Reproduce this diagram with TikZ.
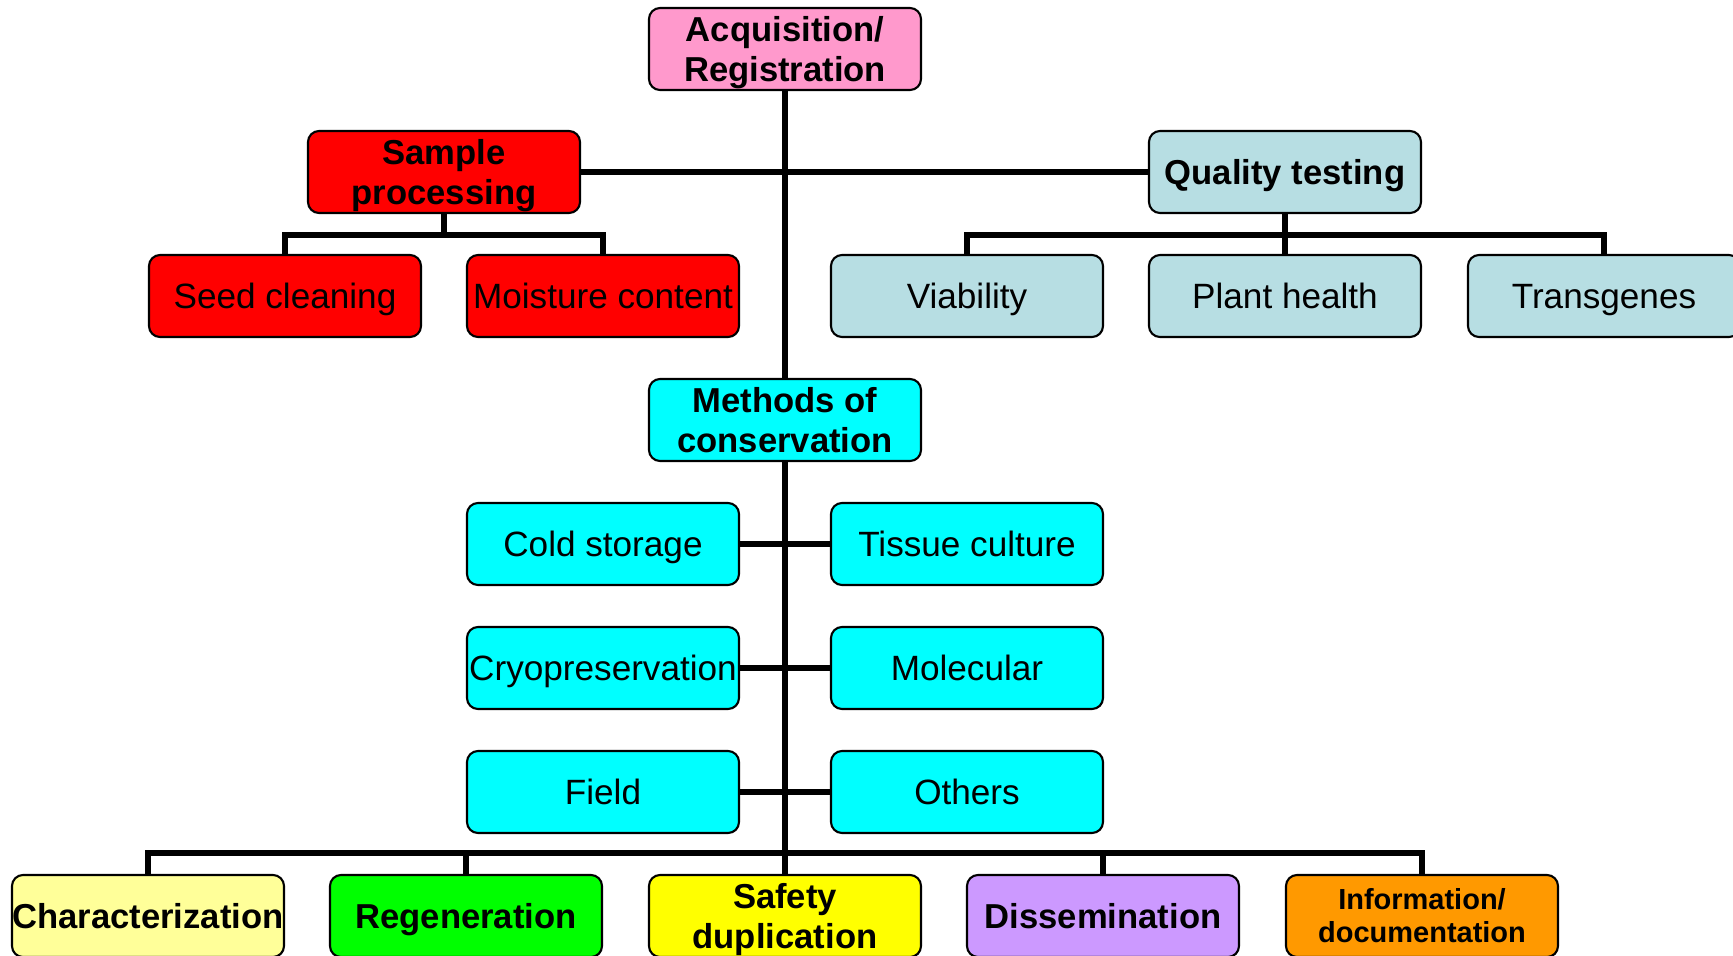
\documentclass[tikz,border=0pt]{standalone}
\usepackage{fontspec}
\setmainfont{Liberation Sans}
\usepackage{xcolor}
\usetikzlibrary{backgrounds}
\definecolor{acqpink}{HTML}{FF99CC}
\definecolor{procred}{HTML}{FF0000}
\definecolor{qualblue}{HTML}{B7DEE3}
\definecolor{conscyan}{HTML}{00FFFF}
\definecolor{charyellow}{HTML}{FFFF99}
\definecolor{regengreen}{HTML}{00FF00}
\definecolor{safeyellow}{HTML}{FFFF00}
\definecolor{dissviolet}{HTML}{CC99FF}
\definecolor{infoorange}{HTML}{FF9900}
\tikzset{
  box/.style     = {draw, line width=1.2pt, rectangle, rounded corners=0.22cm,
                    minimum width=5.44cm, minimum height=1.64cm, inner sep=0pt,
                    align=center, text height=14.3pt, text depth=0pt,
                    font=\fontsize{20}{23}\selectfont},
  headbox/.style = {box, text height=14.1pt,
                    font=\fontsize{19.7}{23}\selectfont\bfseries},
  twoline/.style = {text height=37.1pt},
  link/.style    = {line width=3.2pt},
}

\begin{document}
\begin{tikzpicture}[x=1cm,y=1cm]
\useasboundingbox (0,0) rectangle (34.66,-19.10);
% ---------- top ----------
\node[headbox,twoline,fill=acqpink] (acq) at (15.70,-0.98) {Acquisition/\\Registration};
\node[headbox,twoline,fill=procred] (sample) at (8.88,-3.44) {Sample\\processing};
\node[headbox,fill=qualblue] (quality) at (25.70,-3.44) {Quality testing};
\node[box,fill=procred] (seed) at (5.70,-5.92) {Seed cleaning};
\node[box,fill=procred] (moist) at (12.06,-5.92) {Moisture content};
\node[box,fill=qualblue] (viab) at (19.34,-5.92) {Viability};
\node[box,fill=qualblue] (plant) at (25.70,-5.92) {Plant health};
\node[box,fill=qualblue] (trans) at (32.08,-5.92) {Transgenes};
% ---------- conservation ----------
\node[headbox,twoline,fill=conscyan] (methods) at (15.70,-8.40) {Methods of\\conservation};
\node[box,fill=conscyan] (cold) at (12.06,-10.88) {Cold storage};
\node[box,fill=conscyan] (tissue) at (19.34,-10.88) {Tissue culture};
\node[box,fill=conscyan] (cryo) at (12.06,-13.36) {Cryopreservation};
\node[box,fill=conscyan] (mol) at (19.34,-13.36) {Molecular};
\node[box,fill=conscyan] (field) at (12.06,-15.84) {Field};
\node[box,fill=conscyan] (others) at (19.34,-15.84) {Others};
% ---------- bottom row ----------
\node[headbox,fill=charyellow] (char) at (2.96,-18.32) {Characterization};
\node[headbox,fill=regengreen] (regen) at (9.32,-18.32) {Regeneration};
\node[headbox,twoline,fill=safeyellow] (safety) at (15.70,-18.32) {Safety\\duplication};
\node[headbox,fill=dissviolet] (dissem) at (22.06,-18.32) {Dissemination};
\node[headbox,fill=infoorange,text height=30.5pt,
  font=\fontsize{16.5}{18.7}\selectfont\bfseries]
  (info) at (28.44,-18.32) {Information/\\documentation};
% ---------- connectors ----------
\begin{scope}[on background layer]
\draw[link] (acq.south) -- (safety.north);
\draw[link] (sample.east) -- (quality.west);
\draw[link] (sample.south) -- ++(0,-0.42) -| (seed.north);
\draw[link] (sample.south) -- ++(0,-0.42) -| (moist.north);
\draw[link] (quality.south) -- ++(0,-0.42) -| (viab.north);
\draw[link] (quality.south) -- ++(0,-0.42) -| (trans.north);
\draw[link] (quality.south) -- (plant.north);
\draw[link] (cold.east) -- (tissue.west);
\draw[link] (cryo.east) -- (mol.west);
\draw[link] (field.east) -- (others.west);
\draw[link] (char.north) -- ++(0,0.42) -| (info.north);
\draw[link] (regen.north) -- ++(0,0.42);
\draw[link] (dissem.north) -- ++(0,0.42);
\end{scope}
\end{tikzpicture}
\end{document}
